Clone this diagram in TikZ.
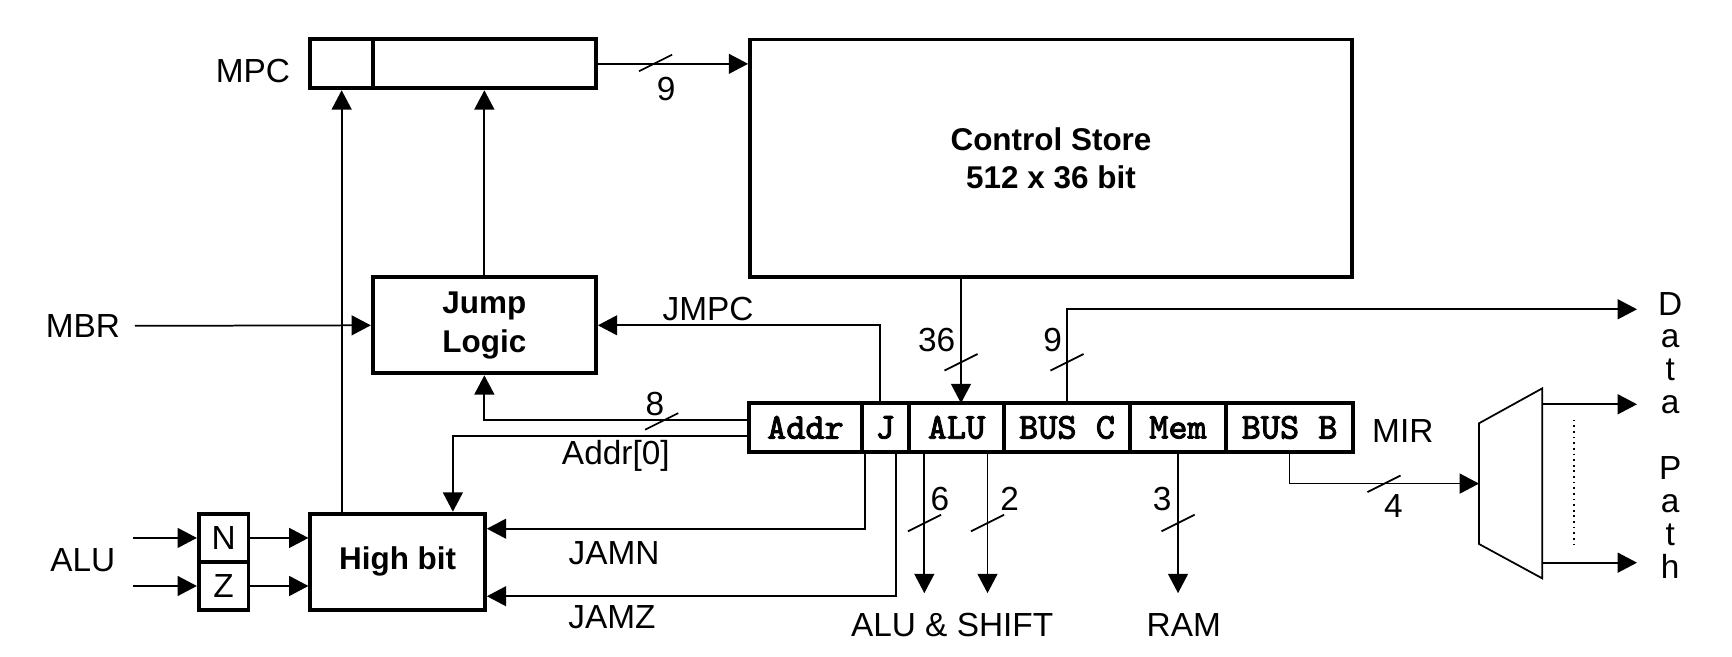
\documentclass[tikz,border=0pt]{standalone}
\usepackage{fontspec}
\setmainfont{Liberation Sans}
\newfontfamily\fldfont[FakeBold=2.2]{Latin Modern Mono}
\usetikzlibrary{arrows.meta,calc}

\tikzset{
  wire/.style={line width=0.45pt},
  arr/.style={wire,-{Triangle[length=1.75mm,width=1.8mm]}},
  blk/.style={draw,line width=1pt,inner sep=0pt,align=center,font=\fontsize{8.1}{9.9}\selectfont\bfseries},
  fld/.style={draw,line width=1pt,inner sep=0pt,outer sep=0pt,minimum height=4.4mm,anchor=west,font=\fontsize{9.4}{10}\selectfont\fldfont},
  buswidth/.pic={\draw[wire] (-15,7.5) -- (15,-7.5);}
}

\begin{document}
\begin{tikzpicture}[x=0.1mm,y=-0.1mm,font=\fontsize{8.6}{10}\selectfont]
\useasboundingbox (0,0) rectangle (1568,594);

% MPC, control store, jump logic, high bit
\node[blk,minimum width=5.74mm,minimum height=4.43mm] (mpchi) at (309.3,57.8) {};
\node[blk,minimum width=20.16mm,minimum height=4.43mm] (mpclo) at (438.8,57.8) {};
\node (mpclbl) at (229,64) {MPC};
\node[blk,minimum width=54.5mm,minimum height=21.5mm] (cs) at (951.5,143.3) {Control Store\\512 x 36 bit};
\node[blk,minimum width=20.2mm,minimum height=8.7mm] (jump) at (438.5,294.5) {Jump\\Logic};
\node[blk,minimum width=15.8mm,minimum height=8.7mm] (high) at (360,508.5) {High bit};
\node[blk,minimum width=4.5mm,minimum height=4.4mm,font=\fontsize{8.6}{10}\selectfont] (nflag) at (202.5,487) {N};
\node[blk,minimum width=4.5mm,minimum height=4.3mm,font=\fontsize{8.6}{10}\selectfont] (zflag) at (202.5,530.5) {Z};

% MIR
\node[fld,minimum width=10.16mm] (addr) at (678.4,387) {Addr};
\node[fld,minimum width=4.3mm] (jfld) at (addr.east) {J};
\node[fld,minimum width=8.6mm] (alufld) at (jfld.east) {ALU};
\node[fld,minimum width=11.4mm] (busc) at (alufld.east) {BUS C};
\node[fld,minimum width=8.7mm] (mem) at (busc.east) {Mem};
\node[fld,minimum width=11.5mm] (busb) at (mem.east) {BUS B};
\node (mirlbl) at (1270,390) {MIR};

% outside labels
\node (mbrlbl) at (75,295) {MBR};
\node (alulbl) at (75,507.5) {ALU};
\node (jmpclbl) at (641,280) {JMPC};
\node (addr0lbl) at (557.5,413) {Addr[0]};
\node (jamnlbl) at (556,501) {JAMN};
\node (jamzlbl) at (554,558.5) {JAMZ};
\node (aluout) at (862,565.8) {ALU \& SHIFT};
\node (ramout) at (1071.7,565.8) {RAM};
\foreach \ch [count=\i] in {D,a,t,a,{},P,a,t,h}
  \node[anchor=base] (dp\i) at (1512,255.4+29.8*\i) {\ch};

% bus widths
\node (wmpc) at (603,81) {9};
\node (waddr) at (593,366) {8};
\node (wcs) at (848,307.5) {36};
\node (wbusc) at (953,307.5) {9};
\node (walu) at (851,451.5) {6};
\node (wshift) at (914,451.5) {2};
\node (wmem) at (1052,451.5) {3};
\node (wbusb) at (1261.5,458) {4};
\path (593.5,57) pic {buswidth};
\path (599,381.5) pic {buswidth};
\path (870,328) pic {buswidth};
\path (966,328) pic {buswidth};
\path (837,473.5) pic {buswidth};
\path (894,473.5) pic {buswidth};
\path (1066.5,473.5) pic {buswidth};
\path (1253,438) pic {buswidth};

% connector ends
\coordinate (dpc) at (1482,280);
\coordinate (dpa) at (1482,366);
\coordinate (dph) at (1482,509.4);
\coordinate (outs) at (0,537);
\coordinate (muxnw) at (1339,383.2);
\coordinate (muxne) at (1396.2,351.6);
\coordinate (muxse) at (1396.2,523.6);
\coordinate (muxsw) at (1339,492.5);
\coordinate (muxin) at (1339,437.8);

% MUX
\draw[wire] (muxsw) -- (muxnw) -- (muxne) -- (muxse) -- cycle;
\draw[wire,densely dotted] (1425,380) -- (1425,494);
\draw[arr] (muxne |- dpa) -- (dpa);
\draw[arr] (muxne |- dph) -- (dph);

% connectors
\draw[arr] (mpclo.east) -- (mpclo.east -| cs.west);
\draw[arr] ([xshift=0.4mm]cs.south -| alufld.north) -- ([xshift=0.4mm]alufld.north);
\draw[arr] (busc.north) |- (dpc);
\draw[arr] ([xshift=-0.45mm]jfld.north) |- (jump.east);
\draw[arr] ([yshift=0.7mm]addr.west) -| (jump.south);
\draw[arr] ([yshift=-0.74mm]addr.west) -| ([xshift=5mm]high.north);
\draw[arr] (high.north -| mpchi.south) -- (mpchi.south);
\draw[arr] (jump.north) -- (jump.north |- mpclo.south);
\draw[arr] (mbrlbl.east -| 122,0) -- (jump.west);
\draw[arr] ([xshift=-5.75mm]nflag.west) -- (nflag.west);
\draw[arr] ([xshift=-5.75mm]zflag.west) -- (zflag.west);
\draw[arr] (nflag.east) -- (nflag.east -| high.west);
\draw[arr] (zflag.east) -- (zflag.east -| high.west);
\draw[arr] ([xshift=0.3mm]jfld.south west) |- ([yshift=-1.54mm]high.north east);
\draw[arr] ([xshift=3.1mm]jfld.south west) |- ([yshift=1.4mm]high.south east);
\draw[arr] ([xshift=1.38mm]alufld.south west) -- ([xshift=1.38mm]alufld.south west |- outs);
\draw[arr] ([xshift=7.1mm]alufld.south west) -- ([xshift=7.1mm]alufld.south west |- outs);
\draw[arr] (mem.south) -- (mem.south |- outs);
\draw[arr] (busb.south) |- (muxin);
\end{tikzpicture}
\end{document}
